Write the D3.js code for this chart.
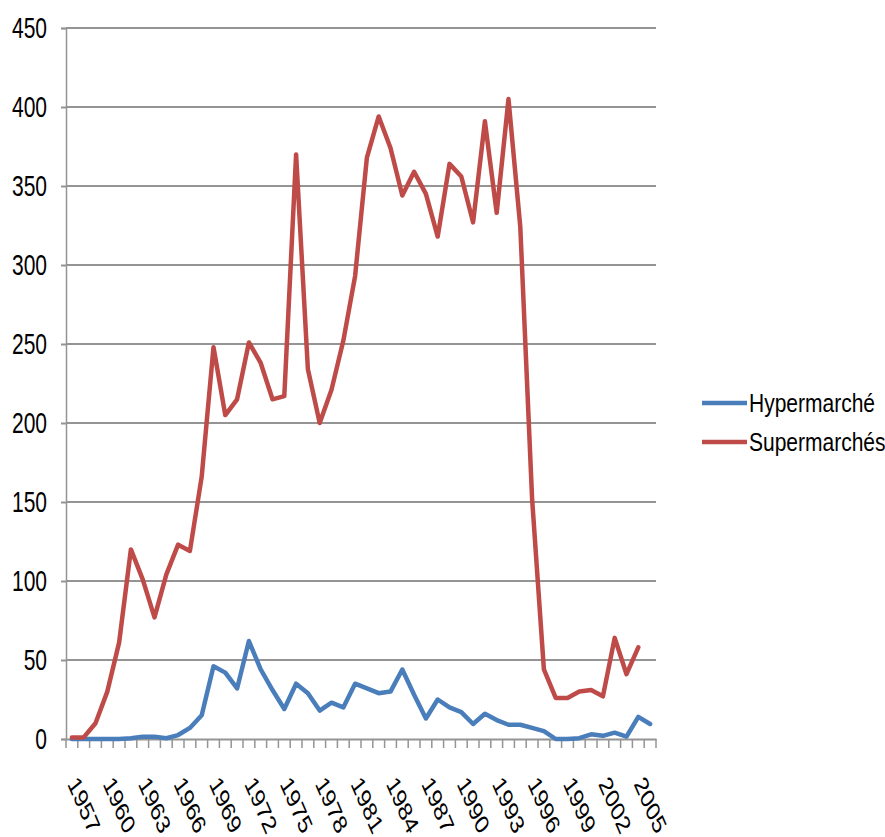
<!DOCTYPE html>
<html>
<head>
<meta charset="utf-8">
<script src="https://cdn.jsdelivr.net/npm/d3@7/dist/d3.min.js"></script>
<style>
    body { margin: 0; background: #fff; }
    svg { display: block; font-family: "Liberation Sans", Arial, sans-serif; }
</style>
</head>
<body>
<div class="js-canvas"></div>
<script>
'use strict';

// data
const years = [1957, 1958, 1959, 1960, 1961, 1962, 1963, 1964, 1965, 1966,
    1967, 1968, 1969, 1970, 1971, 1972, 1973, 1974, 1975, 1976,
    1977, 1978, 1979, 1980, 1981, 1982, 1983, 1984, 1985, 1986,
    1987, 1988, 1989, 1990, 1991, 1992, 1993, 1994, 1995, 1996,
    1997, 1998, 1999, 2000, 2001, 2002, 2003, 2004, 2005, 2006];

const hypermarche = [0, 0, 0, 0, 0, 0.5, 1.5, 1.5, 0.5, 2.5,
    7, 15, 46, 42, 32, 62, 44, 31, 19, 35,
    29, 18, 23, 20, 35, 32, 29, 30, 44, 28,
    13, 25, 20, 17, 9.5, 16, 12, 9, 9, 7,
    5, 0, 0, 0.5, 3, 2, 4, 1.5, 14, 9.5];

const supermarches = [1, 1, 10, 30, 61, 120, 101, 77, 104, 123,
    119, 166, 248, 205, 215, 251, 238, 215, 217, 370,
    234, 200, 221, 252, 293, 368, 394, 374, 344, 359,
    345, 318, 364, 356, 327, 391, 333, 405, 324, 152,
    44, 26, 26, 30, 31, 27, 64, 41, 58, null];

const yTicks = [0, 50, 100, 150, 200, 250, 300, 350, 400, 450];
const xLabels = [1957, 1960, 1963, 1966, 1969, 1972, 1975, 1978, 1981, 1984,
    1987, 1990, 1993, 1996, 1999, 2002, 2005];

const series = [
    { name: 'Hypermarché', values: hypermarche, color: '#4a7ebb' },
    { name: 'Supermarchés', values: supermarches, color: '#be4b48' }
];

const config = {
    width: 885,
    height: 837,
    plot: { left: 66, right: 656, top: 28, bottom: 739 },
    stretch: 1.39,   // the whole picture is stretched vertically
    grid: '#949494'
};

const svg = d3.select('.js-canvas')
    .append('svg')
    .attr('width', config.width)
    .attr('height', config.height);

const x = d3.scaleBand()
    .domain(years)
    .range([config.plot.left, config.plot.right]);

const y = d3.scaleLinear()
    .domain([0, 450])
    .range([config.plot.bottom, config.plot.top]);

// gridlines
svg.append('g')
    .selectAll('line')
    .data(yTicks.filter(d => d > 0))
    .join('line')
    .attr('x1', config.plot.left)
    .attr('x2', config.plot.right)
    .attr('y1', d => y(d))
    .attr('y2', d => y(d))
    .attr('stroke', config.grid)
    .attr('stroke-width', 2);

// y axis
const yAxis = d3.axisLeft(y)
    .tickValues(yTicks)
    .tickSize(5)
    .tickPadding(14);

const yAxisGroup = svg.append('g')
    .attr('transform', `translate(${config.plot.left}, 0)`)
    .call(yAxis);

yAxisGroup.select('.domain')
    .attr('stroke', config.grid)
    .attr('stroke-width', 1.5);
yAxisGroup.selectAll('.tick line')
    .attr('stroke', config.grid)
    .attr('stroke-width', 2);
yAxisGroup.selectAll('.tick text')
    .attr('font-size', 21)
    .attr('fill', '#000')
    .attr('transform', `scale(1, ${config.stretch})`);

// x axis: labels centred on categories, ticks on category boundaries
const xAxis = d3.axisBottom(x)
    .tickValues(xLabels)
    .tickSize(0)
    .tickPadding(0);

const xAxisGroup = svg.append('g')
    .attr('transform', `translate(0, ${config.plot.bottom})`)
    .call(xAxis);

xAxisGroup.select('.domain')
    .attr('stroke', config.grid)
    .attr('stroke-width', 2);

xAxisGroup.selectAll('.tick text')
    .attr('font-size', 19.5)
    .attr('fill', '#000')
    .attr('text-anchor', 'start')
    .attr('y', 0)
    .attr('dy', '0.35em')
    .attr('transform', `translate(1, 40) scale(1, ${config.stretch}) rotate(59)`);

svg.append('g')
    .selectAll('line')
    .data(years.concat(['end']))
    .join('line')
    .attr('x1', d => d === 'end' ? config.plot.right : x(d))
    .attr('x2', d => d === 'end' ? config.plot.right : x(d))
    .attr('y1', config.plot.bottom)
    .attr('y2', config.plot.bottom + 9)
    .attr('stroke', config.grid)
    .attr('stroke-width', 1.5);

// lines
const line = d3.line()
    .defined(d => d.value !== null)
    .x(d => x(d.year) + x.bandwidth() / 2)
    .y(d => y(d.value));

svg.append('g')
    .selectAll('path')
    .data(series)
    .join('path')
    .attr('d', s => line(s.values.map((v, i) => ({ year: years[i], value: v }))))
    .attr('fill', 'none')
    .attr('stroke', s => s.color)
    .attr('stroke-width', 4.5)
    .attr('stroke-linejoin', 'round')
    .attr('stroke-linecap', 'round');

// legend
const legend = svg.append('g')
    .selectAll('g')
    .data(series)
    .join('g')
    .attr('transform', (d, i) => `translate(702, ${403 + i * 39})`);

legend.append('line')
    .attr('x1', 0)
    .attr('x2', 45)
    .attr('stroke', d => d.color)
    .attr('stroke-width', 4.5);

legend.append('text')
    .attr('x', 47)
    .attr('dy', '0.35em')
    .attr('font-size', 21)
    .attr('fill', '#000')
    .attr('transform', `scale(1, 1.25)`)
    .text(d => d.name);
</script>
</body>
</html>
